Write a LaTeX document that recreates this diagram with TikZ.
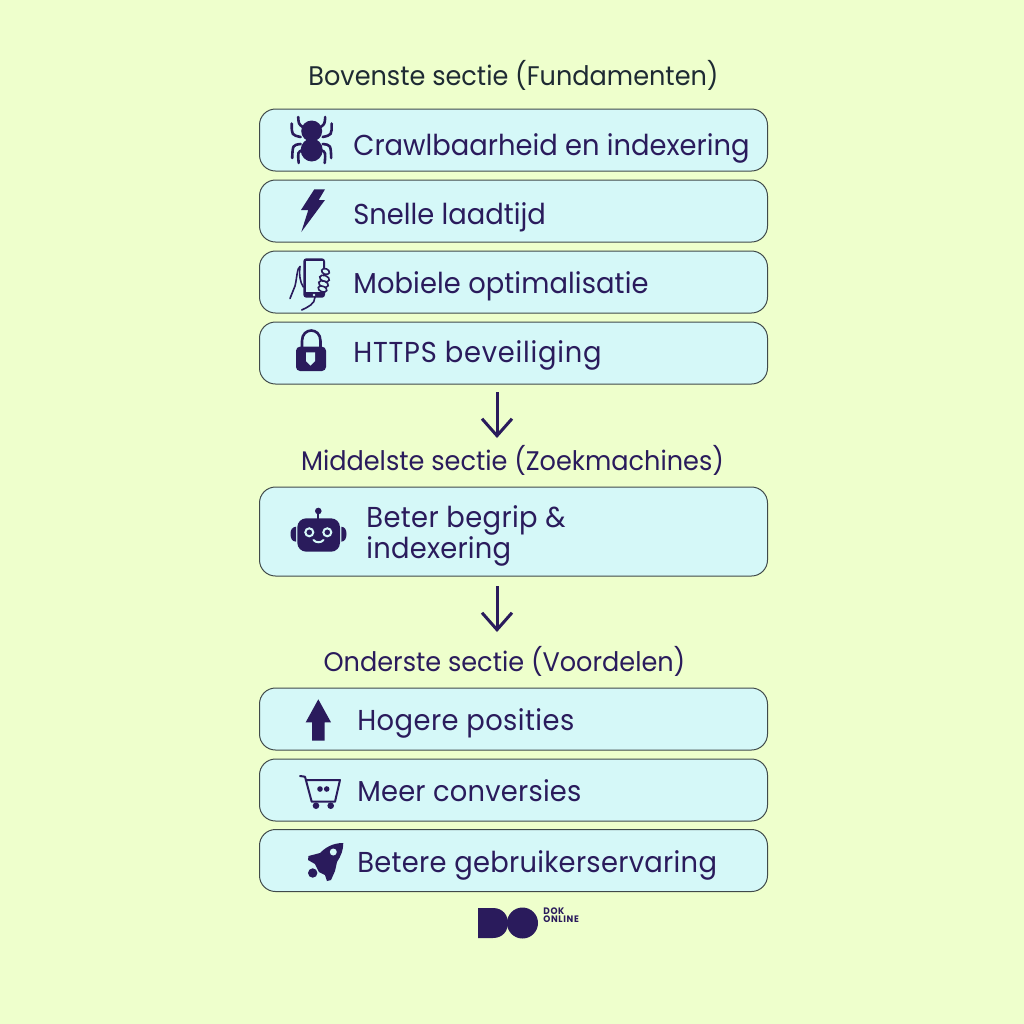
\documentclass[tikz,border=0pt]{standalone}
\usepackage{fontspec}
\usepackage{xcolor}
\usepackage{tikz}
\usetikzlibrary{arrows.meta}
\setmainfont[FakeStretch=0.95]{Poppins}
\definecolor{pagegreen}{HTML}{EEFFCC}
\definecolor{boxblue}{HTML}{D5F8F8}
\definecolor{inkpurple}{HTML}{2A1B5C}
\definecolor{darkhead}{HTML}{1E2A33}
\newcommand{\spaced}[2]{{\addfontfeatures{LetterSpace=#1}#2}}
\tikzset{
  itembox/.style={draw=black!70!boxblue, line width=0.5pt, fill=boxblue, rounded corners=8pt, minimum width=254pt, inner sep=0pt},
  itemtext/.style={anchor=base west, text=inkpurple, font=\fontsize{14.4pt}{15pt}\selectfont, inner sep=0pt},
  headtext/.style={anchor=base, text=inkpurple, font=\fontsize{13.45pt}{15pt}\selectfont, inner sep=0pt},
  logotext/.style={anchor=base west, text=inkpurple, font=\fontsize{4.7pt}{5pt}\selectfont\bfseries\addfontfeatures{LetterSpace=7}, inner sep=0pt},
  flowarrow/.style={draw=inkpurple, line width=1.5pt, -{Straight Barb[length=8.5pt,width=15pt,line width=1.5pt]}},
  iconline/.style={draw=inkpurple, line width=1.3pt, line cap=round},
  thinline/.style={draw=inkpurple, line width=0.8pt, line cap=round},
  iconfill/.style={fill=inkpurple, draw=none},
}
\begin{document}
\begin{tikzpicture}[x=0.5pt,y=-0.5pt]
\useasboundingbox[fill=pagegreen] (0,0) rectangle (1024,1024);
% boxes
\node[itembox, minimum height=31pt] (crawlbox) at (513.5,140) {};
\node[itembox, minimum height=31pt] (speedbox) at (513.5,211) {};
\node[itembox, minimum height=31pt] (mobilebox) at (513.5,282) {};
\node[itembox, minimum height=31pt] (httpsbox) at (513.5,353) {};
\node[itembox, minimum height=44.5pt] (indexbox) at (513.5,531.5) {};
\node[itembox, minimum height=31pt] (rankbox) at (513.5,719) {};
\node[itembox, minimum height=31pt] (salesbox) at (513.5,790) {};
\node[itembox, minimum height=31pt] (uxbox) at (513.5,860.5) {};
% headings
\node[headtext, text=darkhead] (tophead) at (513.5,85) {Bovenste sectie (Fundamenten)};
\node[headtext] (midhead) at (512.5,470) {Middelste sectie (Zoekmachines)};
\node[headtext] (lowhead) at (504.5,671) {Onderste sectie (Voordelen)};
% labels
\node[itemtext] (crawltext) at (353,155) {Crawlbaarheid en indexering};
\node[itemtext] (speedtext) at (353,224) {Snelle laadtijd};
\node[itemtext] (mobiletext) at (353,293) {\spaced{0.3}{Mobiele optimalisatie}};
\node[itemtext] (httpstext) at (353,362) {\spaced{2.6}{HTTPS beveiliging}};
\node[itemtext] (indextext) at (366,527) {\spaced{1.3}{Beter begrip \&}};
\node[itemtext] (indextextb) at (366,558) {\spaced{0.8}{indexering}};
\node[itemtext] (ranktext) at (357,730) {\spaced{1.5}{Hogere posities}};
\node[itemtext] (salestext) at (357,801) {\spaced{0.7}{Meer conversies}};
\node[itemtext] (uxtext) at (357,872) {\spaced{1}{Betere gebruikerservaring}};
% arrows
\coordinate (firststart) at (497,392);
\coordinate (firstend) at (497,438);
\coordinate (secondstart) at (497,586);
\coordinate (secondend) at (497,632);
\draw[flowarrow] (firststart) -- (firstend);
\draw[flowarrow] (secondstart) -- (secondend);
% spider
\filldraw[iconfill] (311.7,131) circle (10.5);
\filldraw[iconfill] (311.7,150) ellipse (11 and 11.5);
\foreach \s in {-1,1} {
  \draw[iconline] ({311.7+\s*9},127) .. controls ({311.7+\s*13},124) .. ({311.7+\s*13.5},117);
  \draw[iconline] ({311.7+\s*11},137) .. controls ({311.7+\s*20},135) .. ({311.7+\s*20},123.5);
  \draw[iconline] ({311.7+\s*11},144) .. controls ({311.7+\s*19},145) .. ({311.7+\s*19.5},158);
  \draw[iconline] ({311.7+\s*9},150) .. controls ({311.7+\s*14},152) .. ({311.7+\s*13},163);
}
% bolt
\filldraw[iconfill] (314.3,189.3) -- (325,189.3) -- (318.7,200) -- (325,200) -- (301.3,232) -- (308.3,210) -- (301,210) -- cycle;
% phone
\filldraw[iconfill, rounded corners=1.5pt] (303.3,258.3) rectangle (325,297.7);
\fill[boxblue] (305.7,261) rectangle (322.7,292);
\fill[boxblue] (314,295) circle (1.3);
\draw[thinline] (300,266.5) .. controls (297,268) and (297,278) .. (295,286) -- (290,298.5);
\draw[thinline] (300,266.5) .. controls (299,275) and (300,282) .. (303.3,287);
\draw[thinline] (301.7,310) .. controls (308,307) and (315,304) .. (315,297);
\filldraw[thinline, fill=boxblue, rotate around={-20:(325.5,271.5)}] (325.5,271.5) ellipse (4 and 2.8);
\filldraw[thinline, fill=boxblue, rotate around={-20:(324.5,278.5)}] (324.5,278.5) ellipse (5 and 3);
\filldraw[thinline, fill=boxblue, rotate around={-20:(323.5,284)}] (323.5,284) ellipse (5 and 3);
\filldraw[thinline, fill=boxblue, rotate around={-20:(322.5,289)}] (322.5,289) ellipse (4.5 and 2.8);
% lock
\draw[iconline] (302,347) -- (302,341) .. controls (302,327) and (320.5,327) .. (320.5,341) -- (320.5,347);
\filldraw[iconfill, rounded corners=2pt] (296,346.7) rectangle (326,371);
\fill[boxblue] (306,352.3) -- (315,352.3) -- (315,361) -- (310.5,365.7) -- (306,361) -- cycle;
% robot
\filldraw[iconfill] (318.3,511) circle (3.3);
\draw[iconline, line width=1pt] (318.3,511) -- (318.3,519);
\filldraw[iconfill, rounded corners=4.5pt] (297.3,518.3) rectangle (340,551.7);
\filldraw[iconfill] (296,526.7) .. controls (292,527) and (290.5,530) .. (290.5,534) .. controls (290.5,538) and (292,541.5) .. (296,541.7) -- cycle;
\filldraw[iconfill] (341.3,526.7) .. controls (345,527) and (346.5,530) .. (346.5,534) .. controls (346.5,538) and (345,541.5) .. (341.3,541.7) -- cycle;
\draw[boxblue, line width=1pt] (309.3,532.3) circle (4);
\draw[boxblue, line width=1pt] (327.3,532.3) circle (4);
\draw[boxblue, line width=1pt, line cap=round] (313.5,540) .. controls (316,543) and (321,543) .. (323.5,540);
% up arrow
\filldraw[iconfill] (318.3,699.3) -- (331,722.3) -- (324.7,722.3) -- (324.7,740.7) -- (312,740.7) -- (312,722.3) -- (305.7,722.3) -- cycle;
% cart
\draw[thinline, line width=1pt, line join=round] (300,776) -- (305,776.7) -- (311.7,801.7) -- (335,801.7) -- (340,780) -- (306.7,780);
\filldraw[iconfill] (316,805.7) circle (3.3);
\filldraw[iconfill] (330.7,805.7) circle (3.3);
\filldraw[iconfill] (320,789) circle (2.8);
\filldraw[iconfill] (326.7,789) circle (2.8);
% rocket
\filldraw[iconfill] (343.3,843) .. controls (332,843) and (325,848) .. (320,853) -- (308.5,856) -- (308,860) -- (315,864) -- (319,872) -- (325,875) -- (327,881) -- (331,880) -- (335,871) -- (337,862) .. controls (341,856) and (343.3,850) .. (343.3,843) -- cycle;
\fill[boxblue] (333.3,852) circle (3.5);
\filldraw[iconfill] (312.7,873) circle (4.7);
% logo
\filldraw[iconfill] (478,908) -- (493,908) .. controls (513,908) and (513,938) .. (493,938) -- (478,938) -- cycle;
\filldraw[iconfill] (522.5,923) circle (15.5);
\node[logotext] (logotop) at (543,914.5) {DOK};
\node[logotext] (logobottom) at (543,922) {ONLINE};
\end{tikzpicture}
\end{document}
